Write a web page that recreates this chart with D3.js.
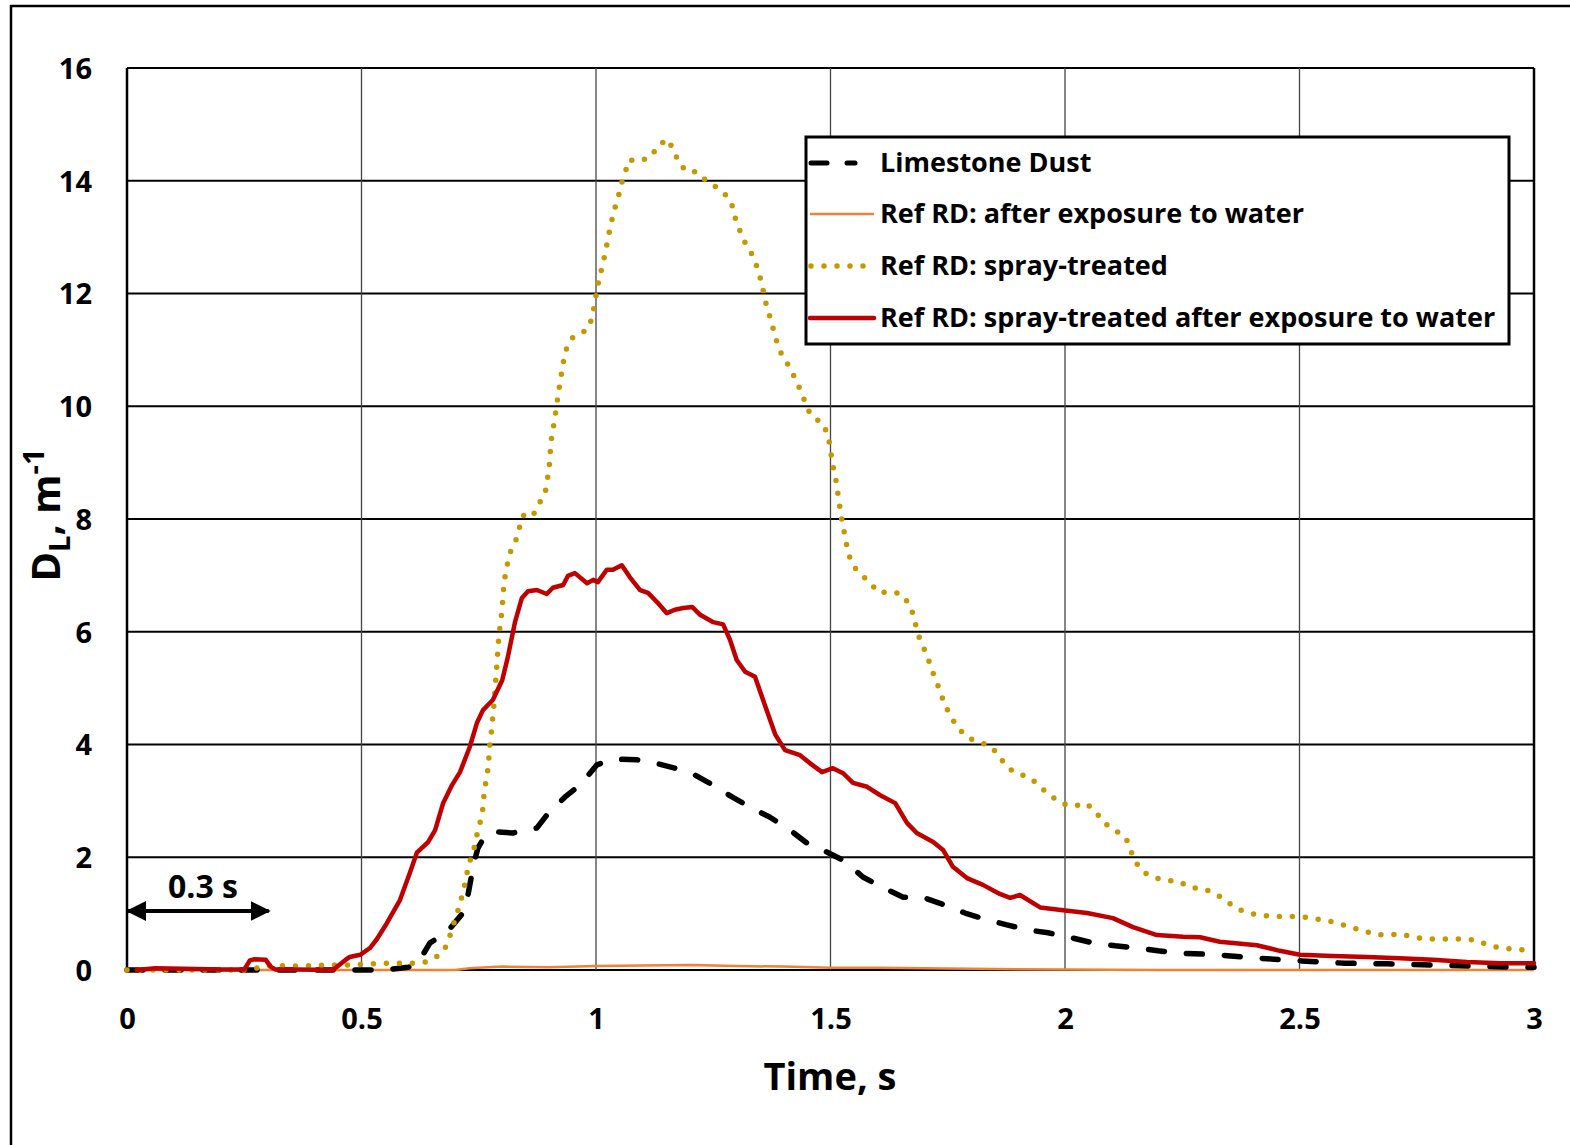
<!DOCTYPE html>
<html>
<head>
<meta charset="utf-8">
<script src="https://cdn.jsdelivr.net/npm/d3@7"></script>
<style>
  body { margin: 0; background: #fff; }
  svg text { font-family: "Open Sans", Lato, sans-serif; font-weight: bold; fill: #000; }
</style>
</head>
<body>
<div id="chart"></div>
<script>
// ---- data ----
const xTicks = [0, 0.5, 1, 1.5, 2, 2.5, 3];
const yTicks = [0, 2, 4, 6, 8, 10, 12, 14, 16];

const seriesNames = [
    "Limestone Dust",
    "Ref RD: after exposure to water",
    "Ref RD: spray-treated",
    "Ref RD: spray-treated after exposure to water"
];

// Limestone Dust (black dashed)
const limestoneT = [0, 0.3, 0.55, 0.6, 0.62, 0.646, 0.682, 0.716, 0.727, 0.738, 0.748, 0.765, 0.785, 0.823, 0.874, 0.898, 0.934, 0.966, 1.002, 1.036, 1.087, 1.126, 1.168, 1.211, 1.254, 1.29, 1.333, 1.371, 1.414, 1.45, 1.493, 1.531, 1.569, 1.61, 1.655, 1.697, 1.744, 1.787, 1.834, 1.876, 1.921, 1.964, 2.015, 2.06, 2.107, 2.153, 2.198, 2.245, 2.324, 2.411, 2.505, 2.597, 2.687, 2.778, 2.868, 2.955, 3];
const limestoneV = [0, 0, 0, 0.05, 0.12, 0.48, 0.67, 1.01, 1.33, 1.83, 2.16, 2.4, 2.45, 2.43, 2.52, 2.78, 3.07, 3.28, 3.64, 3.74, 3.73, 3.67, 3.58, 3.46, 3.26, 3.07, 2.87, 2.71, 2.48, 2.25, 2.09, 1.93, 1.65, 1.47, 1.29, 1.29, 1.15, 1.01, 0.89, 0.8, 0.71, 0.66, 0.57, 0.48, 0.43, 0.39, 0.34, 0.3, 0.27, 0.21, 0.16, 0.12, 0.11, 0.09, 0.07, 0.05, 0.05];

// Ref RD: after exposure to water (thin orange)
const waterT = [0, 0.7, 0.73, 0.8, 0.9, 1.0, 1.1, 1.2, 1.3, 1.4, 1.5, 1.6, 1.8, 2.0, 2.2, 3];
const waterV = [0, 0, 0.03, 0.06, 0.05, 0.07, 0.08, 0.09, 0.07, 0.06, 0.04, 0.04, 0.02, 0.01, 0, 0];

// Ref RD: spray-treated (gold dotted)
const sprayT = [0, 0.26, 0.3, 0.369, 0.431, 0.486, 0.544, 0.599, 0.629, 0.655, 0.676, 0.687, 0.695, 0.704, 0.712, 0.719, 0.725, 0.731, 0.74, 0.746, 0.753, 0.759, 0.761, 0.765, 0.77, 0.772, 0.774, 0.778, 0.78, 0.783, 0.785, 0.787, 0.789, 0.791, 0.793, 0.797, 0.8, 0.802, 0.804, 0.81, 0.814, 0.827, 0.836, 0.84, 0.853, 0.866, 0.878, 0.891, 0.9, 0.904, 0.913, 0.921, 0.93, 0.936, 0.947, 0.966, 0.985, 0.992, 0.998, 1.002, 1.008, 1.015, 1.021, 1.026, 1.032, 1.038, 1.047, 1.053, 1.062, 1.07, 1.092, 1.117, 1.132, 1.153, 1.166, 1.177, 1.194, 1.215, 1.234, 1.256, 1.279, 1.292, 1.298, 1.309, 1.32, 1.335, 1.345, 1.352, 1.358, 1.364, 1.373, 1.38, 1.388, 1.399, 1.416, 1.426, 1.439, 1.448, 1.461, 1.484, 1.494, 1.5, 1.503, 1.51, 1.514, 1.518, 1.522, 1.527, 1.533, 1.537, 1.55, 1.57, 1.586, 1.603, 1.629, 1.65, 1.669, 1.678, 1.684, 1.693, 1.706, 1.714, 1.725, 1.735, 1.744, 1.757, 1.772, 1.793, 1.817, 1.842, 1.859, 1.876, 1.898, 1.925, 1.947, 1.968, 1.991, 2.017, 2.045, 2.066, 2.083, 2.107, 2.13, 2.149, 2.166, 2.19, 2.217, 2.243, 2.268, 2.295, 2.32, 2.343, 2.366, 2.39, 2.418, 2.446, 2.473, 2.5, 2.527, 2.555, 2.58, 2.606, 2.633, 2.659, 2.687, 2.714, 2.74, 2.768, 2.795, 2.821, 2.849, 2.876, 2.902, 2.928, 2.955, 2.99];
const sprayV = [0, 0, 0.08, 0.07, 0.09, 0.09, 0.12, 0.12, 0.12, 0.2, 0.34, 0.57, 0.78, 1.01, 1.24, 1.47, 1.72, 1.93, 2.16, 2.39, 2.62, 2.87, 3.1, 3.33, 3.58, 3.81, 4.04, 4.29, 4.52, 4.75, 5.0, 5.23, 5.46, 5.69, 5.94, 6.19, 6.42, 6.67, 6.9, 7.13, 7.36, 7.57, 7.8, 8.02, 8.11, 8.07, 8.27, 8.43, 8.89, 9.37, 9.83, 10.3, 10.77, 11.0, 11.2, 11.28, 11.39, 11.6, 11.85, 12.08, 12.3, 12.54, 12.77, 13.0, 13.23, 13.46, 13.69, 13.92, 14.14, 14.37, 14.35, 14.42, 14.62, 14.74, 14.53, 14.31, 14.16, 14.16, 14.01, 13.89, 13.73, 13.53, 13.3, 13.07, 12.86, 12.66, 12.43, 12.22, 11.99, 11.76, 11.53, 11.3, 11.07, 10.86, 10.66, 10.45, 10.24, 10.0, 9.81, 9.7, 9.49, 9.26, 9.01, 8.78, 8.55, 8.32, 8.09, 7.86, 7.61, 7.4, 7.15, 6.98, 6.85, 6.69, 6.71, 6.67, 6.48, 6.26, 6.03, 5.8, 5.59, 5.36, 5.14, 4.91, 4.7, 4.49, 4.29, 4.12, 4.04, 3.97, 3.8, 3.6, 3.48, 3.42, 3.25, 3.1, 2.96, 2.9, 2.96, 2.8, 2.61, 2.48, 2.34, 1.93, 1.74, 1.64, 1.59, 1.57, 1.46, 1.44, 1.36, 1.23, 1.09, 1.01, 0.97, 0.95, 0.95, 0.95, 0.92, 0.88, 0.84, 0.76, 0.71, 0.63, 0.62, 0.64, 0.59, 0.55, 0.55, 0.55, 0.55, 0.53, 0.44, 0.39, 0.37, 0.35];

// Ref RD: spray-treated after exposure to water (red solid)
const sprayWaterT = [0.021, 0.06, 0.12, 0.2, 0.25, 0.262, 0.272, 0.296, 0.306, 0.316, 0.36, 0.439, 0.469, 0.475, 0.497, 0.518, 0.533, 0.554, 0.582, 0.603, 0.618, 0.642, 0.657, 0.674, 0.693, 0.71, 0.731, 0.746, 0.759, 0.78, 0.8, 0.812, 0.827, 0.842, 0.855, 0.874, 0.895, 0.908, 0.93, 0.94, 0.955, 0.981, 0.994, 1.004, 1.023, 1.036, 1.055, 1.072, 1.094, 1.111, 1.132, 1.151, 1.168, 1.186, 1.205, 1.222, 1.25, 1.271, 1.286, 1.3, 1.318, 1.339, 1.36, 1.382, 1.403, 1.435, 1.456, 1.482, 1.505, 1.527, 1.548, 1.578, 1.606, 1.638, 1.663, 1.684, 1.719, 1.74, 1.761, 1.791, 1.825, 1.861, 1.883, 1.904, 1.947, 1.996, 2.047, 2.102, 2.145, 2.196, 2.252, 2.288, 2.33, 2.409, 2.458, 2.501, 2.571, 2.644, 2.714, 2.785, 2.857, 2.928, 3];
const sprayWaterV = [0, 0.03, 0.02, 0.01, 0.01, 0.17, 0.19, 0.18, 0.06, 0.01, 0.01, 0, 0.2, 0.23, 0.27, 0.39, 0.55, 0.83, 1.24, 1.72, 2.08, 2.27, 2.48, 2.96, 3.28, 3.51, 3.96, 4.38, 4.61, 4.79, 5.14, 5.55, 6.16, 6.6, 6.72, 6.74, 6.67, 6.78, 6.83, 6.99, 7.04, 6.86, 6.92, 6.88, 7.1, 7.1, 7.18, 6.97, 6.74, 6.69, 6.51, 6.33, 6.39, 6.42, 6.44, 6.3, 6.17, 6.13, 5.85, 5.5, 5.29, 5.2, 4.7, 4.18, 3.9, 3.81, 3.67, 3.51, 3.58, 3.49, 3.32, 3.25, 3.1, 2.96, 2.61, 2.43, 2.27, 2.13, 1.83, 1.63, 1.51, 1.35, 1.28, 1.33, 1.11, 1.06, 1.01, 0.92, 0.76, 0.62, 0.59, 0.58, 0.5, 0.44, 0.34, 0.27, 0.25, 0.23, 0.21, 0.18, 0.14, 0.12, 0.12];

// ---- layout ----
const width = 1570, height = 1145;
const plot = { left: 127, right: 1534, top: 68, bottom: 970 };

const svg = d3.select("#chart").append("svg")
    .attr("width", width)
    .attr("height", height);

// outer frame (runs off the right/bottom edge like the source)
svg.append("rect")
    .attr("x", 11).attr("y", 6)
    .attr("width", width + 20).attr("height", height + 20)
    .attr("fill", "none").attr("stroke", "#000").attr("stroke-width", 2.5);

let x = d3.scaleLinear().domain([0, 3]).range([plot.left, plot.right]);
let y = d3.scaleLinear().domain([0, 16]).range([plot.bottom, plot.top]);

// grid
let grid = svg.append("g");
grid.selectAll("line.h").data(yTicks).enter().append("line")
    .attr("x1", plot.left).attr("x2", plot.right)
    .attr("y1", d => y(d)).attr("y2", d => y(d))
    .attr("stroke", "#000").attr("stroke-width", 2);
grid.selectAll("line.v").data(xTicks).enter().append("line")
    .attr("y1", plot.top).attr("y2", plot.bottom)
    .attr("x1", d => x(d)).attr("x2", d => x(d))
    .attr("stroke", d => (d === 0 || d === 3) ? "#000" : "#444")
    .attr("stroke-width", d => (d === 0 || d === 3) ? 2.5 : 1.3);

// axes (labels only, lines come from grid)
let yAxis = svg.append("g")
    .attr("transform", `translate(${plot.left - 35}, 0)`)
    .call(d3.axisLeft(y).tickValues(yTicks).tickSize(0).tickPadding(0));
yAxis.select(".domain").remove();
yAxis.selectAll("text").style("font-size", "29px").attr("dy", "0.36em");

let xAxis = svg.append("g")
    .attr("transform", `translate(0, ${plot.bottom + 38})`)
    .call(d3.axisBottom(x).tickValues(xTicks).tickSize(0).tickPadding(0).tickFormat(d3.format("")));
xAxis.select(".domain").remove();
xAxis.selectAll("text").style("font-size", "29px");

svg.append("text")
    .attr("x", 830).attr("y", 1090)
    .attr("text-anchor", "middle")
    .style("font-size", "38px")
    .text("Time, s");

let yTitle = svg.append("text")
    .attr("transform", `translate(60, 515) rotate(-90)`)
    .attr("text-anchor", "middle")
    .style("font-size", "40px");
yTitle.append("tspan").text("D");
yTitle.append("tspan").attr("dy", 10).style("font-size", "29px").text("L");
yTitle.append("tspan").attr("dy", -10).text(", m");
yTitle.append("tspan").attr("dy", -16).style("font-size", "29px").text("-1");

// series
const styles = [
    { color: "#000", width: 5.5, dash: "16,22", cap: "round" },
    { color: "#F08236", width: 2.5, dash: null, cap: "butt" },
    { color: "#C59800", width: 5.5, dash: "0,13", cap: "round" },
    { color: "#C00000", width: 4.5, dash: null, cap: "round" }
];
const seriesData = [
    limestoneT.map((t, i) => [t, limestoneV[i]]),
    waterT.map((t, i) => [t, waterV[i]]),
    sprayT.map((t, i) => [t, sprayV[i]]),
    sprayWaterT.map((t, i) => [t, sprayWaterV[i]])
];
const drawOrder = [1, 0, 2, 3];

let line = d3.line().x(d => x(d[0])).y(d => y(d[1])).curve(d3.curveLinear);
drawOrder.forEach(function(k) {
    svg.append("path")
        .datum(seriesData[k])
        .attr("d", line)
        .attr("fill", "none")
        .attr("stroke", styles[k].color)
        .attr("stroke-width", styles[k].width)
        .attr("stroke-dasharray", styles[k].dash)
        .attr("stroke-linecap", styles[k].cap)
        .attr("stroke-linejoin", "round");
});

// 0.3 s marker
let defs = svg.append("defs");
defs.append("marker").attr("id", "ah")
    .attr("viewBox", "0 0 10 10").attr("refX", 9).attr("refY", 5)
    .attr("markerWidth", 5).attr("markerHeight", 5)
    .attr("orient", "auto-start-reverse")
    .append("path").attr("d", "M0,0 L10,5 L0,10 Z").attr("fill", "#000");
svg.append("line")
    .attr("x1", x(0) + 1).attr("x2", x(0.3) + 1)
    .attr("y1", 911).attr("y2", 911)
    .attr("stroke", "#000").attr("stroke-width", 4)
    .attr("marker-start", "url(#ah)").attr("marker-end", "url(#ah)");
svg.append("text")
    .attr("x", 203).attr("y", 898)
    .attr("text-anchor", "middle")
    .style("font-size", "32px")
    .text("0.3 s");

// legend
let legend = svg.append("g");
legend.append("rect")
    .attr("x", 806).attr("y", 137).attr("width", 703).attr("height", 207)
    .attr("fill", "#fff").attr("stroke", "#000").attr("stroke-width", 3);
const legendY = [163, 214, 266, 318];
seriesNames.forEach(function(name, k) {
    let g = legend.append("g").attr("transform", `translate(0, ${legendY[k]})`);
    if (k === 0) {
        g.append("line").attr("x1", 811).attr("x2", 827).attr("y1", 0).attr("y2", 0)
            .attr("stroke", "#000").attr("stroke-width", 5).attr("stroke-linecap", "round");
        g.append("line").attr("x1", 847).attr("x2", 855).attr("y1", 0).attr("y2", 0)
            .attr("stroke", "#000").attr("stroke-width", 5).attr("stroke-linecap", "round");
    } else {
        g.append("line").attr("x1", k === 2 ? 811 : 810).attr("x2", 864 + (k === 2 ? 0 : 10))
            .attr("y1", 0).attr("y2", 0)
            .attr("stroke", styles[k].color).attr("stroke-width", styles[k].width)
            .attr("stroke-dasharray", styles[k].dash)
            .attr("stroke-linecap", styles[k].cap);
    }
    g.append("text").attr("x", 880).attr("dy", "0.35em")
        .style("font-size", "27px")
        .text(name);
});
</script>
</body>
</html>
